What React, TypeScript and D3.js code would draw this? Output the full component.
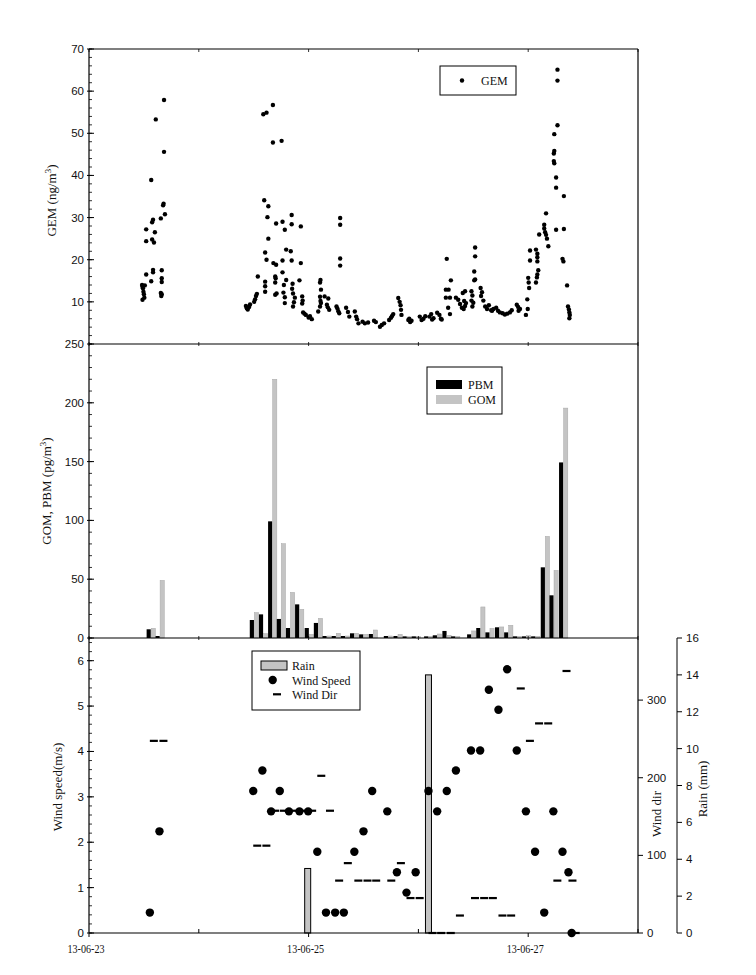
import React from 'react';
import * as d3 from 'd3';

// ---------- axis / tick data ----------
const dayTickHours = [0, 24, 48, 72, 96, 120];
const dateLabelHours = [0, 48, 96];
const dateLabels = ['13-06-23', '13-06-25', '13-06-27'];

const gemTicks = [10, 20, 30, 40, 50, 60, 70];
const gomTicks = [0, 50, 100, 150, 200, 250];
const wsTicks = [0, 1, 2, 3, 4, 5, 6];
const wdTicks = [0, 100, 200, 300];
const rainTicks = [0, 2, 4, 6, 8, 10, 12, 14, 16];

// ---------- GEM (hours since 13-06-23 00:00, ng/m3) ----------
const gemData: [number, number][] = [
  [11.6, 14.0], [11.7, 13.6], [11.8, 13.2], [11.9, 12.4], [12.0, 11.8], [12.1, 11.0], [11.7, 10.5], [12.2, 13.9],
  [12.5, 27.2], [12.5, 24.4], [12.5, 16.5],
  [13.6, 38.9], [13.6, 14.9], [13.8, 28.9], [13.8, 24.8], [14.0, 29.5], [14.0, 17.6], [14.0, 17.0], [14.2, 24.1], [14.4, 26.5],
  [15.7, 29.8], [15.9, 17.5], [15.9, 15.6], [15.9, 14.7], [15.7, 12.1], [15.8, 11.4], [15.9, 11.8],
  [14.6, 53.3], [16.4, 57.9], [16.4, 45.6], [16.2, 32.9], [16.6, 30.8], [16.3, 33.3],
  [34.3, 9.0], [34.5, 8.5], [34.7, 8.2], [35.0, 8.8], [35.2, 9.4],
  [36.1, 10.0], [36.3, 10.6], [36.5, 11.4], [36.7, 11.9], [36.9, 16.0],
  [38.5, 14.8], [38.5, 13.7], [38.5, 12.4],
  [38.3, 34.1], [39.2, 32.7], [39.0, 30.1], [39.2, 25.0], [38.5, 21.7], [38.8, 20.0],
  [38.1, 54.5], [38.8, 54.9], [40.2, 56.7], [40.2, 47.8], [42.1, 48.2],
  [40.3, 19.2], [40.9, 18.8], [40.7, 16.0], [40.8, 15.6], [40.7, 14.6], [40.7, 11.7], [41.0, 12.0], [40.9, 28.6],
  [42.3, 29.0], [42.3, 19.8], [42.8, 27.1], [42.3, 17.0], [43.1, 22.4], [42.6, 14.0], [43.1, 15.2], [42.5, 12.2], [42.8, 11.1], [42.8, 9.7],
  [44.3, 30.6], [44.3, 28.4], [44.1, 22.0], [44.3, 19.8],
  [44.5, 14.3], [44.4, 13.1], [44.6, 12.0], [45.0, 11.0], [44.8, 9.9], [44.6, 8.9],
  [46.3, 27.9], [46.3, 19.2], [46.0, 15.1], [46.6, 11.3], [46.7, 10.3], [46.6, 9.6],
  [46.8, 7.5], [47.4, 6.9], [48.3, 6.6], [48.7, 5.9], [48.0, 6.3], [47.1, 7.2],
  [50.1, 7.7], [50.5, 8.9], [50.5, 14.6], [50.6, 15.2], [50.7, 12.9], [50.5, 11.2], [50.6, 10.2], [50.7, 9.7],
  [51.5, 11.3], [52.3, 10.8], [52.0, 9.3], [52.5, 8.1], [52.2, 8.7],
  [54.1, 8.9], [54.3, 8.4], [54.5, 7.8], [54.7, 7.3],
  [54.9, 29.9], [54.9, 28.3], [54.9, 20.3], [54.9, 18.6],
  [56.2, 8.6], [56.6, 7.6], [56.9, 6.5],
  [58.1, 7.7], [58.4, 6.5], [58.6, 5.9], [58.9, 4.9],
  [59.8, 5.3], [60.3, 4.9], [61.0, 5.1],
  [62.3, 5.5], [62.7, 5.2],
  [63.6, 4.1], [64.0, 4.5], [64.5, 4.9],
  [65.6, 5.7], [66.0, 6.2], [66.2, 6.6], [66.5, 7.1],
  [67.6, 10.9], [67.9, 10.0], [68.1, 9.2], [68.2, 8.1], [68.3, 6.9],
  [69.8, 5.7], [70.2, 5.2], [70.5, 5.5], [70.0, 6.0],
  [72.3, 6.5], [72.7, 5.7], [73.1, 6.0], [73.5, 6.6],
  [74.4, 6.5], [74.8, 7.1], [75.3, 6.1], [75.0, 5.8],
  [76.1, 7.4], [76.6, 6.9], [76.9, 6.0], [77.1, 5.8],
  [78.2, 20.2], [78.5, 8.6], [78.9, 7.1], [79.1, 15.1], [78.0, 12.9], [78.6, 12.9], [78.9, 11.0], [78.0, 11.0],
  [80.2, 11.0], [80.7, 10.5], [81.1, 9.5], [81.5, 8.6], [82.0, 10.2], [82.2, 9.0], [82.4, 9.7], [81.7, 12.1], [82.2, 12.5], [81.9, 8.3],
  [83.6, 12.5], [83.8, 11.5], [83.6, 10.3], [84.0, 9.8], [83.8, 8.9],
  [84.4, 22.9], [84.4, 20.8], [84.2, 17.2], [84.2, 15.1], [84.4, 15.3],
  [85.6, 13.3], [85.9, 12.3], [85.7, 11.4], [86.2, 10.3],
  [86.6, 8.9], [87.0, 8.3], [87.4, 9.2], [87.9, 8.0], [88.4, 8.3], [88.1, 7.9],
  [89.0, 8.6], [89.4, 7.9], [89.8, 7.5], [90.4, 7.3], [90.9, 7.0], [91.4, 7.2], [92.0, 7.5], [92.4, 8.0],
  [93.5, 9.3], [93.8, 8.8], [94.2, 8.3], [93.9, 7.9],
  [95.5, 6.9], [95.9, 8.3], [95.8, 10.6], [96.0, 15.7], [96.2, 13.3], [96.1, 14.6], [96.4, 22.2], [96.4, 19.8],
  [97.7, 14.6], [97.9, 15.8], [98.2, 17.5], [98.0, 16.5], [97.7, 22.4], [98.0, 21.4], [98.0, 20.6], [98.0, 19.6], [98.4, 26.0],
  [99.5, 28.3], [99.5, 27.4], [99.7, 26.5], [99.9, 25.9], [100.1, 25.0], [100.4, 23.2], [99.9, 31.0],
  [102.1, 27.1], [102.1, 37.1], [102.1, 39.5], [101.7, 42.9], [101.6, 43.4], [101.6, 45.2], [101.7, 45.8], [101.7, 49.8],
  [102.4, 51.9], [102.4, 62.5], [102.4, 65.1],
  [103.8, 35.1], [103.8, 27.3], [103.5, 20.2], [103.7, 19.6], [104.5, 13.9],
  [104.7, 8.9], [104.9, 8.2], [105.0, 7.5], [105.1, 6.9], [105.0, 6.1],
];

// ---------- speciated mercury (pg/m3) ----------
const specHours = [13.55, 15.5, 36.1, 38.1, 40.1, 42.0, 44.0, 46.0, 48.1, 50.1, 52.0, 54.0, 56.0, 58.0, 60.0, 62.1,
  65.4, 67.5, 69.5, 71.5, 74.2, 76.1, 78.2, 80.1, 83.6, 85.6, 87.6, 89.7, 91.7, 93.6, 95.6, 97.6, 99.7, 101.6, 103.7];
const pbmValues = [7.4, 1.7, 15.3, 20.1, 99.2, 16.2, 8.5, 28.6, 8.5, 12.8, 1.7, 1.7, 1.7, 4.0, 3.1, 3.4,
  1.7, 1.7, 1.4, 1.4, 1.4, 2.3, 6.0, 1.4, 3.1, 8.5, 4.8, 9.1, 4.8, 1.4, 1.4, 1.4, 60.1, 36.3, 149.3];
const gomValues = [8.2, 49.0, 21.6, 3.7, 220.0, 80.2, 38.8, 24.4, 3.1, 16.7, 1.7, 4.0, 1.7, 4.0, 3.1, 6.8,
  1.7, 3.1, 1.2, 1.2, 1.4, 3.4, 2.3, 1.4, 6.0, 26.4, 8.2, 9.4, 10.8, 1.4, 2.0, 1.4, 86.4, 57.5, 195.5];

// ---------- meteorology ----------
const windHours = [13.3, 15.4, 35.9, 37.9, 39.8, 41.7, 43.7, 46.0, 47.9, 49.9, 51.8, 53.8, 55.7, 58.0, 60.0, 61.9,
  65.2, 67.3, 69.4, 71.4, 74.2, 76.1, 78.2, 80.2, 83.5, 85.5, 87.4, 89.5, 91.4, 93.5, 95.5, 97.5, 99.5, 101.5, 103.5, 104.8, 105.5];
const windSpeed = [0.45, 2.24, 3.13, 3.58, 2.68, 3.13, 2.68, 2.68, 2.68, 1.79, 0.45, 0.45, 0.45, 1.79, 2.24, 3.13,
  2.68, 1.34, 0.89, 1.34, 3.13, 2.68, 3.13, 3.58, 4.02, 4.02, 5.36, 4.92, 5.81, 4.02, 2.68, 1.79, 0.45, 2.68, 1.79, 1.34, 0];
const windDir = [247.5, 247.5, 112.5, 112.5, 157.5, 157.5, 157.5, 157.5, 157.5, 202.5, 157.5, 67.5, 90, 67.5, 67.5, 67.5,
  67.5, 90, 45, 45, 0, 0, 0, 22.5, 45, 45, 45, 22.5, 22.5, 315, 247.5, 270, 270, 67.5, 337.5, 67.5, 0];

const rainHours = [47.8, 74.2];
const rainValues = [3.5, 14.0];

// ---------- layout ----------
const W = 756, H = 975;
const X0 = 89, X1 = 638;
const T_TOP = 49, T_BOT = 344, M_BOT = 638, B_BOT = 933;
const RAIN_AXIS_X = 677;

const SANS = 'Liberation Sans, Arial, sans-serif';
const SERIF = 'Liberation Serif, Times New Roman, serif';
const GRAY = '#c4c4c4';

export default function App() {
  const x = d3.scaleLinear().domain([0, 120]).range([X0, X1]);
  const yGem = d3.scaleLinear().domain([0, 70]).range([T_BOT, T_TOP]);
  const yGom = d3.scaleLinear().domain([0, 250]).range([M_BOT, T_BOT]);
  const yWs = d3.scaleLinear().domain([0, 6.5]).range([B_BOT, M_BOT]);
  const yWd = d3.scaleLinear().domain([0, 380]).range([B_BOT, M_BOT]);
  const yRain = d3.scaleLinear().domain([0, 16]).range([B_BOT, M_BOT]);

  const barW = x(1) - x(0) - 0.4;

  const leftTicks = (scale: d3.ScaleLinear<number, number>, majors: number[], minorStep: number, lo: number, hi: number, showLabels: boolean[] | null, fmt: (v: number) => string) => {
    const minors = d3.range(lo, hi + minorStep / 2, minorStep);
    return (
      <g>
        {minors.map((v, i) => (
          <line key={'m' + i} x1={X0} x2={X0 + 3} y1={scale(v)} y2={scale(v)} stroke="#000" strokeWidth={0.8} />
        ))}
        {majors.map((v, i) => (
          <g key={'M' + i}>
            <line x1={X0 - 2} x2={X0 + 5} y1={scale(v)} y2={scale(v)} stroke="#000" strokeWidth={1} />
            {(showLabels ? showLabels[i] : true) && (
              <text x={X0 - 5} y={scale(v)} textAnchor="end" dominantBaseline="central" fontFamily={SANS} fontSize={11.5} fill="#111">{fmt(v)}</text>
            )}
          </g>
        ))}
      </g>
    );
  };

  return (
    <svg width={W} height={H} style={{ position: 'absolute', left: 0, top: 0, background: '#fff' }}>
      <rect x={0} y={0} width={W} height={H} fill="#fff" />

      {/* ---------- TOP PANEL: GEM ---------- */}
      {gemData.map((d, i) => (
        <circle key={'g' + i} cx={x(d[0])} cy={yGem(d[1])} r={2.2} fill="#000" />
      ))}
      {leftTicks(yGem, gemTicks, 2, 0, 70, null, (v) => String(v))}
      <text transform={`translate(56,${(T_TOP + T_BOT) / 2 + 4}) rotate(-90)`} textAnchor="middle" fontFamily={SERIF} fontSize={13} fill="#111">
        GEM (ng/m<tspan dy={-5} fontSize={9}>3</tspan><tspan dy={5}>)</tspan>
      </text>
      {/* legend GEM */}
      <rect x={440} y={66} width={76} height={29} fill="#fff" stroke="#000" strokeWidth={1} />
      <circle cx={462} cy={80.5} r={2.2} fill="#000" />
      <text x={481} y={85} fontFamily={SERIF} fontSize={12} fill="#111">GEM</text>

      {/* ---------- MIDDLE PANEL: PBM / GOM ---------- */}
      {specHours.map((h, i) => (
        <g key={'s' + i}>
          <rect x={x(h) - barW - 0.2} y={yGom(pbmValues[i])} width={barW} height={M_BOT - yGom(pbmValues[i])} fill="#000" />
          <rect x={x(h) + 0.2} y={yGom(gomValues[i])} width={barW} height={M_BOT - yGom(gomValues[i])} fill={GRAY} stroke="#a8a8a8" strokeWidth={0.5} />
        </g>
      ))}
      {leftTicks(yGom, gomTicks, 10, 0, 250, null, (v) => String(v))}
      <text transform={`translate(51,${(T_BOT + M_BOT) / 2}) rotate(-90)`} textAnchor="middle" fontFamily={SERIF} fontSize={13} fill="#111">
        GOM, PBM (pg/m<tspan dy={-5} fontSize={9}>3</tspan><tspan dy={5}>)</tspan>
      </text>
      {/* legend PBM/GOM */}
      <rect x={427} y={367} width={75} height={47} fill="#fff" stroke="#000" strokeWidth={1} />
      <rect x={436} y={380} width={26} height={9} fill="#000" />
      <text x={468} y={389} fontFamily={SERIF} fontSize={12} fill="#111">PBM</text>
      <rect x={436} y={395} width={26} height={9} fill={GRAY} />
      <text x={468} y={404} fontFamily={SERIF} fontSize={12} fill="#111">GOM</text>

      {/* ---------- BOTTOM PANEL: rain, wind ---------- */}
      {rainHours.map((h, i) => (
        <rect key={'r' + i} x={x(h) - 3} y={yRain(rainValues[i])} width={6} height={B_BOT - yRain(rainValues[i])} fill={GRAY} stroke="#000" strokeWidth={1} />
      ))}
      {windHours.map((h, i) => (
        <rect key={'wd' + i} x={x(h)} y={yWd(windDir[i]) - 1.1} width={8} height={2.2} fill="#000" />
      ))}
      {windHours.map((h, i) => (
        <circle key={'ws' + i} cx={x(h)} cy={yWs(windSpeed[i])} r={4.2} fill="#000" />
      ))}
      {leftTicks(yWs, wsTicks, 0.2, 0, 6.4, null, (v) => String(v))}
      <text transform={`translate(62,787) rotate(-90)`} textAnchor="middle" fontFamily={SERIF} fontSize={13} fill="#111">Wind speed(m/s)</text>

      {/* wind dir axis (right) */}
      {wdTicks.map((v, i) => (
        <g key={'wdt' + i}>
          <line x1={X1} x2={X1 + 5} y1={yWd(v)} y2={yWd(v)} stroke="#000" strokeWidth={1} />
          <text x={X1 + 9} y={yWd(v)} dominantBaseline="central" fontFamily={SANS} fontSize={11.5} fill="#111">{v}</text>
        </g>
      ))}
      <text transform={`translate(661,814) rotate(-90)`} textAnchor="middle" fontFamily={SERIF} fontSize={13} fill="#111">Wind dir</text>

      {/* rain axis (far right) */}
      <line x1={RAIN_AXIS_X} x2={RAIN_AXIS_X} y1={M_BOT} y2={B_BOT} stroke="#000" strokeWidth={1} />
      {rainTicks.map((v, i) => (
        <g key={'rt' + i}>
          <line x1={RAIN_AXIS_X} x2={RAIN_AXIS_X + 5} y1={yRain(v)} y2={yRain(v)} stroke="#000" strokeWidth={1} />
          <text x={RAIN_AXIS_X + 9} y={yRain(v)} dominantBaseline="central" fontFamily={SANS} fontSize={11.5} fill="#111">{v}</text>
        </g>
      ))}
      <text transform={`translate(707,789) rotate(-90)`} textAnchor="middle" fontFamily={SERIF} fontSize={13} fill="#111">Rain (mm)</text>

      {/* legend bottom */}
      <rect x={252} y={651} width={108} height={59} fill="#fff" stroke="#000" strokeWidth={1} />
      <rect x={261} y={661} width={26} height={9} fill={GRAY} stroke="#000" strokeWidth={1} />
      <text x={292} y={670} fontFamily={SERIF} fontSize={12} fill="#111">Rain</text>
      <circle cx={272.7} cy={680} r={4.2} fill="#000" />
      <text x={292} y={684.5} fontFamily={SERIF} fontSize={12} fill="#111">Wind Speed</text>
      <rect x={273} y={693.2} width={8} height={2.2} fill="#000" />
      <text x={292} y={699} fontFamily={SERIF} fontSize={12} fill="#111">Wind Dir</text>

      {/* ---------- frames ---------- */}
      <line x1={X0} x2={X0} y1={T_TOP} y2={B_BOT} stroke="#000" strokeWidth={1.2} />
      <line x1={X1} x2={X1} y1={T_TOP} y2={B_BOT} stroke="#000" strokeWidth={1.2} />
      <line x1={X0} x2={X1} y1={T_TOP} y2={T_TOP} stroke="#000" strokeWidth={1.2} />
      <line x1={X0} x2={X1} y1={T_BOT} y2={T_BOT} stroke="#000" strokeWidth={1.2} />
      <line x1={X0} x2={X1} y1={M_BOT} y2={M_BOT} stroke="#000" strokeWidth={1.2} />
      <line x1={X0} x2={X1} y1={B_BOT} y2={B_BOT} stroke="#000" strokeWidth={1.2} />

      {/* day ticks on borders */}
      {dayTickHours.map((h, i) => (
        <g key={'dt' + i}>
          <line x1={x(h)} x2={x(h)} y1={T_TOP} y2={T_TOP + 3} stroke="#000" strokeWidth={0.8} />
          <line x1={x(h)} x2={x(h)} y1={T_BOT - 2} y2={T_BOT + 2} stroke="#000" strokeWidth={0.8} />
          <line x1={x(h)} x2={x(h)} y1={M_BOT - 2} y2={M_BOT + 2} stroke="#000" strokeWidth={0.8} />
          {dateLabelHours.includes(h) ? (
            <line x1={x(h)} x2={x(h)} y1={B_BOT} y2={B_BOT + 4} stroke="#000" strokeWidth={1} />
          ) : (
            <line x1={x(h)} x2={x(h)} y1={B_BOT - 4} y2={B_BOT} stroke="#000" strokeWidth={1} />
          )}
        </g>
      ))}
      {dateLabelHours.map((h, i) => (
        <text key={'dl' + i} x={x(h) - 3} y={953} textAnchor="middle" fontFamily={SERIF} fontSize={12} textLength={37} lengthAdjust="spacingAndGlyphs" fill="#111">{dateLabels[i]}</text>
      ))}
    </svg>
  );
}
